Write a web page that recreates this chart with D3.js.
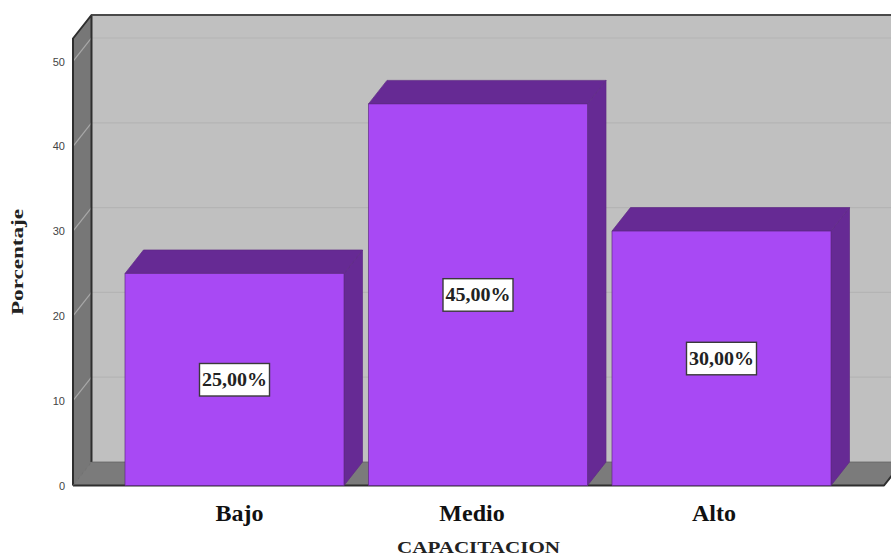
<!DOCTYPE html>
<html>
<head>
<meta charset="utf-8">
<script src="https://cdn.jsdelivr.net/npm/d3@7/dist/d3.min.js"></script>
<style>
html,body{margin:0;padding:0;background:#fff;overflow:hidden}
svg{display:block}
</style>
</head>
<body>
<svg id="chart" width="891" height="556"></svg>
<script>
const categories = ["Bajo", "Medio", "Alto"];
const percentages = [25, 45, 30];
const valueLabels = ["25,00%", "45,00%", "30,00%"];
const yTicks = [0, 10, 20, 30, 40, 50];
const yMax = 52.71;

const svg = d3.select("#chart");
const depthX = 18.5, depthY = 23.5;
const serif = "'Liberation Serif', serif";
const sans = "'Liberation Sans', sans-serif";

// Front plane of the 3D box
const x = d3.scaleBand().domain(categories).range([112.75, 843.25]).paddingInner(0.1006).paddingOuter(0.0503);
const y = d3.scaleLinear().domain([0, yMax]).range([485.5, 38.5]);
const frameLeft = 73, frameRight = 884;

const poly = (pts, fill) => svg.append("polygon")
  .attr("points", pts.map(p => p.join(",")).join(" "))
  .attr("fill", fill);

const bottom = y(0), top3d = y(yMax);

// Back wall
poly([[frameLeft + depthX, top3d - depthY], [905, top3d - depthY], [905, bottom - depthY], [frameLeft + depthX, bottom - depthY]], "#c0c0c0");
// Side wall
poly([[frameLeft, top3d], [frameLeft + depthX, top3d - depthY], [frameLeft + depthX, bottom - depthY], [frameLeft, bottom]], "#777777");
// Floor
poly([[frameLeft, bottom], [frameLeft + depthX, bottom - depthY], [frameRight + depthX, bottom - depthY], [frameRight, bottom]], "#7b7b7b");

// Gridlines across the back wall and side wall
const grid = svg.append("g").selectAll("g").data(yTicks.filter(d => d > 0)).join("g");
grid.append("line")
  .attr("x1", frameLeft + depthX).attr("x2", 891)
  .attr("y1", d => y(d) - depthY).attr("y2", d => y(d) - depthY)
  .attr("stroke", "#b4b4b4").attr("stroke-width", 1.2);
grid.append("line")
  .attr("x1", frameLeft).attr("x2", frameLeft + depthX)
  .attr("y1", d => y(d)).attr("y2", d => y(d) - depthY)
  .attr("stroke", "#a8a8a8").attr("stroke-width", 1.2);

// Box outline
const outline = svg.append("g").attr("fill", "none").attr("stroke", "#2e2e2e").attr("stroke-linejoin", "round");
outline.append("path").attr("stroke-width", 2)
  .attr("d", d3.line()([[frameLeft, bottom], [frameLeft, top3d], [frameLeft + depthX, top3d - depthY], [frameLeft + depthX, bottom - depthY]]));
outline.append("path").attr("stroke-width", 2).attr("stroke", "#4a4a4a")
  .attr("d", d3.line()([[frameLeft + depthX, top3d - depthY], [891, top3d - depthY]]));
outline.append("path").attr("stroke-width", 2)
  .attr("d", d3.line()([[frameLeft, bottom], [frameRight, bottom], [frameRight + depthX * 0.42, bottom - depthY * 0.42]]));
outline.append("path").attr("stroke-width", 0.8).attr("stroke", "#666")
  .attr("d", d3.line()([[frameLeft + depthX, bottom - depthY], [891, bottom - depthY]]));
outline.append("path").attr("stroke-width", 0.8).attr("stroke", "#666")
  .attr("d", d3.line()([[frameLeft, bottom], [frameLeft + depthX, bottom - depthY]]));

// Bars: side face, top face, front face
const bars = svg.append("g").selectAll("g").data(categories.map((c, i) => ({c, v: percentages[i], label: valueLabels[i]}))).join("g");
bars.each(function(d) {
  const g = d3.select(this);
  const x0 = x(d.c), x1 = x0 + x.bandwidth(), yt = y(d.v);
  const face = (pts, fill) => g.append("polygon")
    .attr("points", pts.map(p => p.join(",")).join(" "))
    .attr("fill", fill).attr("stroke", "#5f2a85").attr("stroke-width", 0.7).attr("stroke-linejoin", "round");
  face([[x1, yt], [x1 + depthX, yt - depthY], [x1 + depthX, bottom - depthY], [x1, bottom]], "#662a94");
  face([[x0, yt], [x0 + depthX, yt - depthY], [x1 + depthX, yt - depthY], [x1, yt]], "#662a94");
  face([[x0, yt], [x1, yt], [x1, bottom], [x0, bottom]], "#a849f4");
  // Value label centred on the front face
  const cx = (x0 + x1) / 2, cy = (yt + bottom) / 2;
  g.append("rect").attr("x", cx - 35).attr("y", cy - 16).attr("width", 70).attr("height", 32.5)
    .attr("fill", "#fff").attr("stroke", "#3a3a3a").attr("stroke-width", 1.4);
  g.append("text").attr("x", cx).attr("y", cy + 6.5).attr("text-anchor", "middle")
    .attr("font-family", serif).attr("font-weight", "bold").attr("font-size", 18)
    .attr("textLength", 65).attr("lengthAdjust", "spacingAndGlyphs")
    .attr("fill", "#222").text(d.label);
});

// Value axis
const yAxis = svg.append("g").attr("transform", `translate(${frameLeft - 8},0)`)
  .call(d3.axisLeft(y).tickValues(yTicks).tickSize(0).tickPadding(0));
yAxis.select(".domain").remove();
yAxis.selectAll("text").attr("font-family", sans).attr("font-size", 11).attr("fill", "#444");

// Category labels sit slightly off the bar centres
const labelShift = {Bajo: 5, Medio: -6, Alto: -7.5};
svg.append("g").selectAll("text").data(categories).join("text")
  .attr("x", d => x(d) + x.bandwidth() / 2 + labelShift[d])
  .attr("y", 521).attr("text-anchor", "middle")
  .attr("font-family", serif).attr("font-weight", "bold").attr("font-size", 24)
  .attr("fill", "#111").text(d => d);

// Axis titles, set wide
svg.append("text").attr("x", 478.5).attr("y", 553).attr("text-anchor", "middle")
  .attr("font-family", serif).attr("font-weight", "bold").attr("font-size", 16.5)
  .attr("textLength", 163).attr("lengthAdjust", "spacingAndGlyphs")
  .attr("fill", "#222").text("CAPACITACION");
svg.append("text").attr("transform", "translate(23,262) rotate(-90)").attr("text-anchor", "middle")
  .attr("font-family", serif).attr("font-weight", "bold").attr("font-size", 16)
  .attr("textLength", 106).attr("lengthAdjust", "spacingAndGlyphs")
  .attr("fill", "#222").text("Porcentaje");
</script>
</body>
</html>
